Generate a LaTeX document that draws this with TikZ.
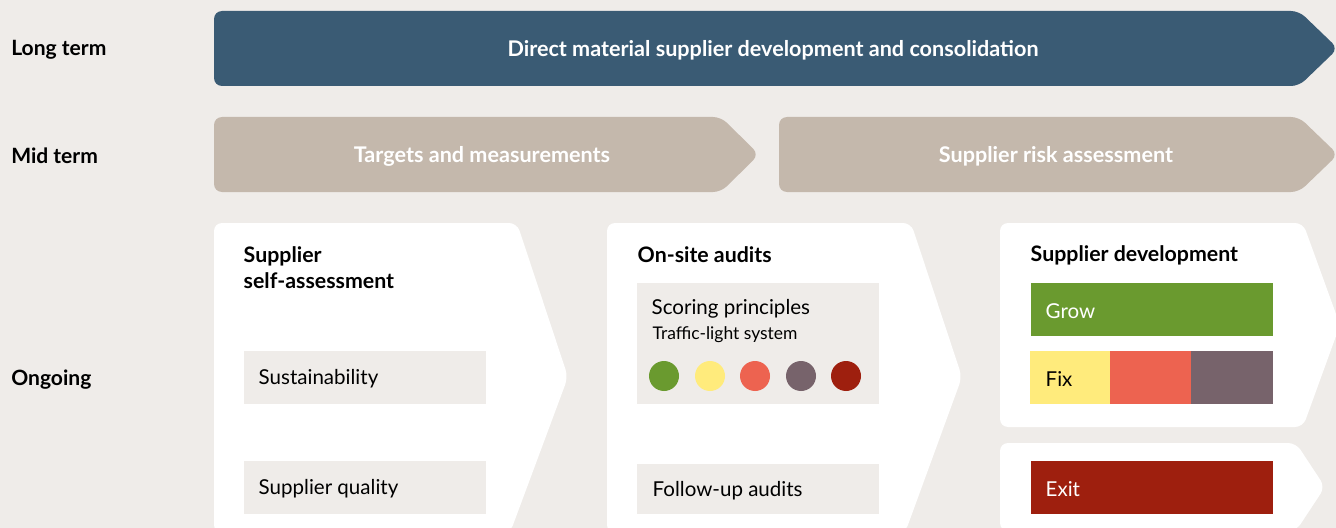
\documentclass[tikz,border=0pt]{standalone}
\usepackage{fontspec}
\setmainfont{Lato}
\definecolor{bg}{HTML}{EFECE9}
\definecolor{steel}{HTML}{3A5B74}
\definecolor{sand}{HTML}{C4B8AC}
\definecolor{tlgreen}{HTML}{6A9A2F}
\definecolor{tlyellow}{HTML}{FFEB7C}
\definecolor{tlred}{HTML}{ED6350}
\definecolor{tlgrey}{HTML}{77636B}
\definecolor{tldark}{HTML}{9E1F0E}

\tikzset{
  rowlabel/.style={anchor=west, inner sep=0pt, font=\bfseries\fontsize{15.8}{18}\selectfont},
  bartext/.style={text=white, font=\bfseries\fontsize{16.2}{18}\selectfont},
  head/.style={anchor=west, align=left, font=\bfseries\fontsize{16}{19.5}\selectfont},
  item/.style={anchor=west, font=\fontsize{15.4}{18}\selectfont},
  small/.style={anchor=west, font=\fontsize{13.1}{15}\selectfont},
  chevron/.style={fill=white, rounded corners=6pt},
}

\begin{document}
\begin{tikzpicture}[x=0.75pt,y=-0.75pt]
\clip (0,0) rectangle (1336,528);
\fill [bg] (0,0) rectangle (1336,528);

% long term
\fill [steel, rounded corners=6pt]
(214,11)--(1299,11)--(1338,48.5)--(1299,86)--(214,86)--cycle;
\node [bartext] (longbar) at (773,50) {Direct material supplier development and consolidation};

% mid term
\fill [sand, rounded corners=6pt]
(214,117)--(721,117)--(759,154.5)--(721,192)--(214,192)--cycle;
\fill [sand, rounded corners=6pt]
(779,117)--(1299,117)--(1338,154.5)--(1299,192)--(779,192)--cycle;
\node [bartext] (targets) at (482,156) {Targets and measurements};
\node [bartext] (risk) at (1056,156) {Supplier risk assessment};

% ongoing
\fill [chevron] (214,223)--(517,223)--(568,377)--(510,533)--(214,533)--cycle;
\fill [chevron] (607,223)--(911,223)--(962,377)--(905,533)--(607,533)--cycle;
\fill [chevron] (1000,223)--(1303,223)--(1340,325)--(1303,427)--(1000,427)--cycle;
\fill [chevron] (1000,443)--(1296,443)--(1325,487)--(1296,531)--(1000,531)--cycle;

\node [rowlabel] (long) at (11,50) {Long term};
\node [rowlabel] (mid) at (11,156) {Mid term};
\node [rowlabel] (ongoing) at (11,379.5) {Ongoing};

% self-assessment
\node [head] (selfhead) at (239,267.5) {Supplier\\self-assessment};
\fill [bg] (244,351) rectangle (486,404);
\node [item] (sust) at (254,379) {Sustainability};
\fill [bg] (244,461) rectangle (486,514);
\node [item] (quality) at (254,489) {Supplier quality};

% audits
\node [head] (audithead) at (633,254.5) {On-site audits};
\fill [bg] (637,283) rectangle (879,404);
\node [item] (scoring) at (647,308.5) {Scoring principles};
\node [small] (traffic) at (648,335) {Traffic-light system};
\foreach \x/\c in {664/tlgreen, 710/tlyellow, 755/tlred, 801/tlgrey, 846/tldark}
  \fill [fill=\c] (\x,376) circle (11.25pt);
\fill [bg] (637,464) rectangle (879,514);
\node [item] (followup) at (648,490.5) {Follow-up audits};

% development
\node [head] (devhead) at (1026,255.5) {Supplier development};
\fill [tlgreen] (1031,283) rectangle (1273,336);
\node [item, text=white] (grow) at (1041,311) {Grow};
\fill [tlyellow] (1030,351) rectangle (1110,404);
\fill [tlred] (1110,351) rectangle (1191,404);
\fill [tlgrey] (1191,351) rectangle (1273,404);
\node [item] (fix) at (1041,379) {Fix};
\fill [tldark] (1031,461) rectangle (1273,514);
\node [item, text=white] (exit) at (1041,489) {Exit};
\end{tikzpicture}
\end{document}
